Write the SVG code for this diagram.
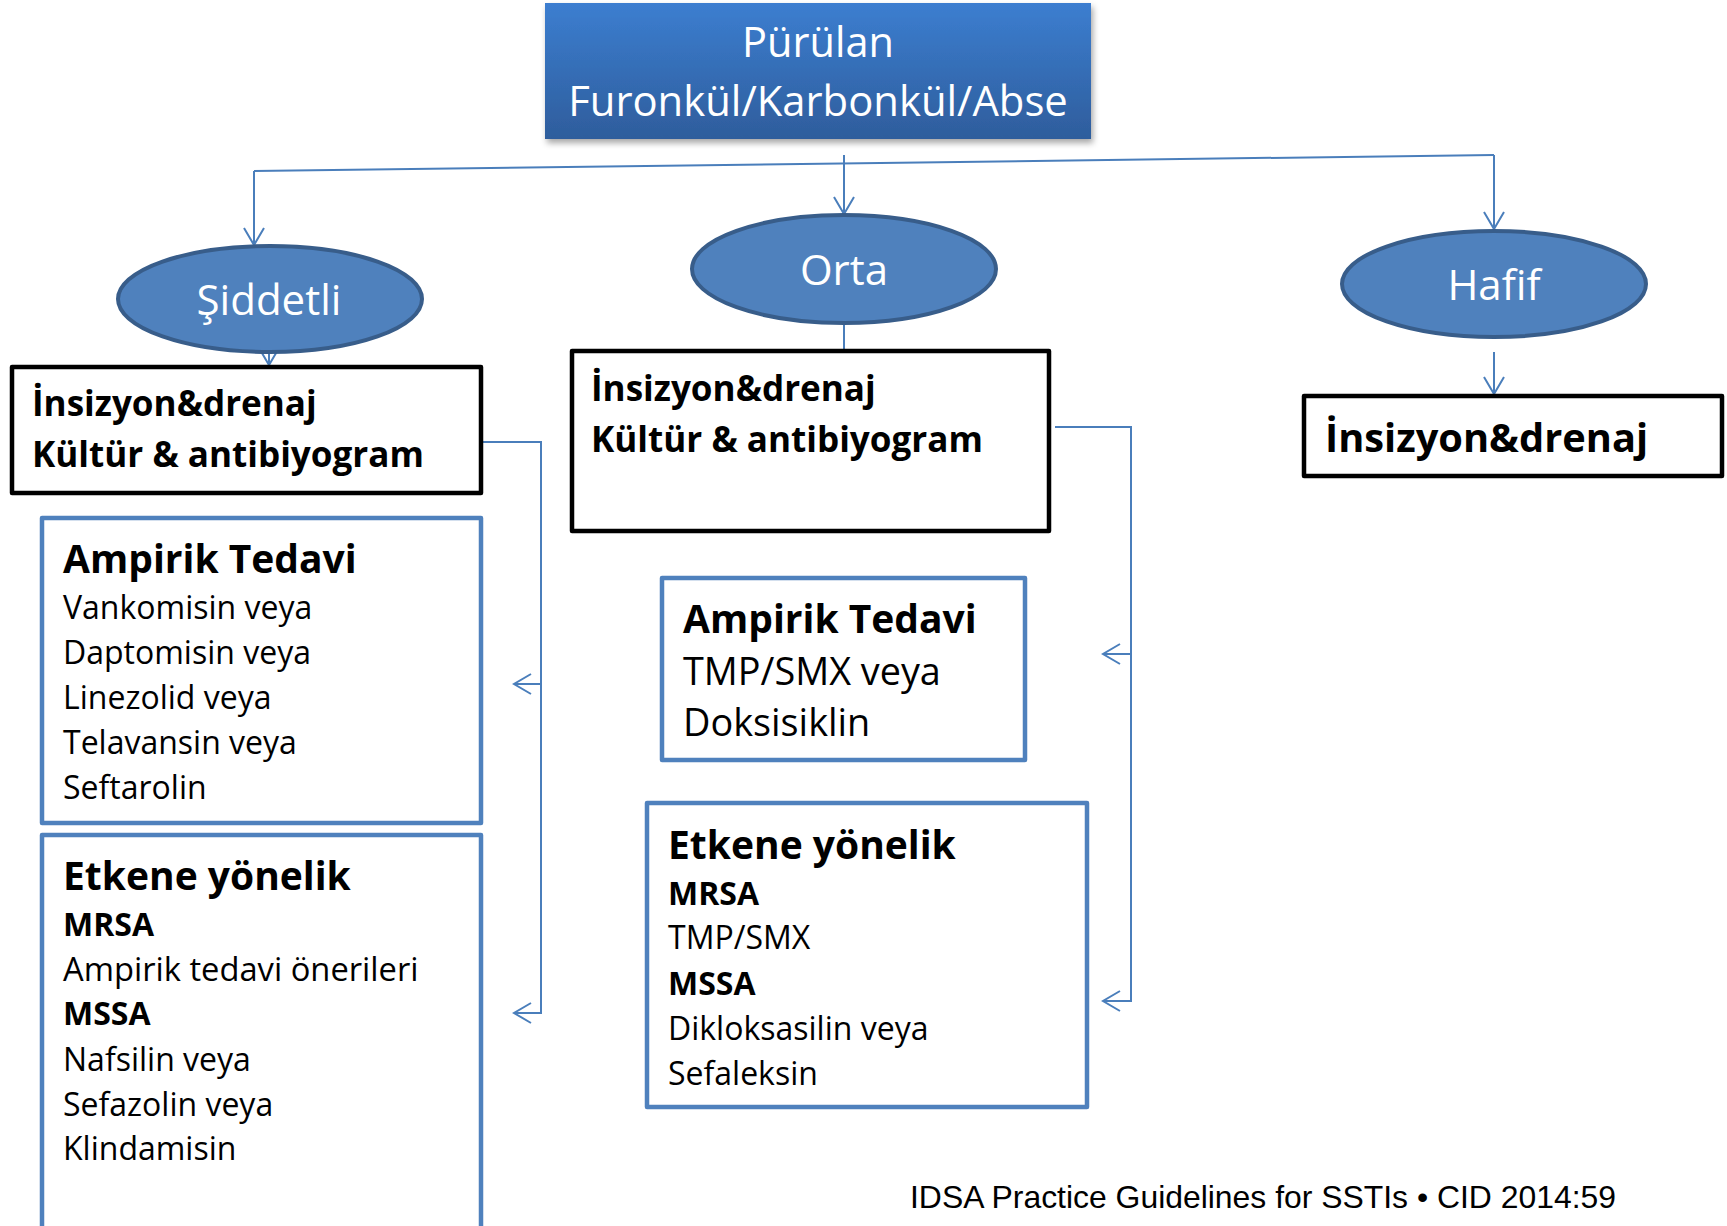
<svg xmlns="http://www.w3.org/2000/svg" width="1727" height="1226" viewBox="0 0 1727 1226">
<defs>
<linearGradient id="tg" x1="0" y1="0" x2="0" y2="1">
<stop offset="0" stop-color="#3c7ed0"/>
<stop offset="1" stop-color="#2e5d9c"/>
</linearGradient>
<filter id="sh" x="-5%" y="-10%" width="110%" height="125%">
<feDropShadow dx="2" dy="4" stdDeviation="3" flood-color="#000" flood-opacity="0.35"/>
</filter>
<marker id="arr" viewBox="-19 -12 21 24" refX="0" refY="0" markerWidth="21" markerHeight="24" markerUnits="userSpaceOnUse" orient="auto">
<path d="M-17,-10 L0,0 L-17,10" fill="none" stroke="#4a7ebb" stroke-width="2"/>
</marker>
</defs>
<style>
.conn{fill:none;stroke:#4a7ebb;stroke-width:2}
.ell{fill:#4f81bd;stroke:#385d8a;stroke-width:4}
.wt{font-family:"Open Sans","Noto Sans",sans-serif;fill:#fff;text-anchor:middle}
.blk{fill:#fff;stroke:#000;stroke-width:4.5;stroke-linejoin:round}
.blu{fill:#fff;stroke:#4f81bd;stroke-width:4.5;stroke-linejoin:round}
.t{font-family:"Open Sans","Noto Sans",sans-serif;fill:#000}
.bd{font-weight:bold}
</style>
<rect width="1727" height="1226" fill="#fff"/>

<g id="connectors">
<line class="conn" x1="254" y1="171" x2="1494" y2="155"/>
<line class="conn" x1="254" y1="171" x2="254" y2="245" marker-end="url(#arr)"/>
<line class="conn" x1="844" y1="155" x2="844" y2="214" marker-end="url(#arr)"/>
<line class="conn" x1="1494" y1="155" x2="1494" y2="229" marker-end="url(#arr)"/>
<line class="conn" x1="269" y1="345" x2="269" y2="365" marker-end="url(#arr)"/>
<line class="conn" x1="844" y1="323" x2="844" y2="351"/>
<line class="conn" x1="1494" y1="352" x2="1494" y2="394" marker-end="url(#arr)"/>
<path class="conn" d="M481,442 H541 V1013 H514" marker-end="url(#arr)"/>
<line class="conn" x1="541" y1="684" x2="514" y2="684" marker-end="url(#arr)"/>
<path class="conn" d="M1055,427 H1131 V1001 H1103" marker-end="url(#arr)"/>
<line class="conn" x1="1131" y1="654" x2="1103" y2="654" marker-end="url(#arr)"/>
</g>

<g id="title">
<rect x="545" y="3" width="546" height="136" fill="url(#tg)" filter="url(#sh)"/>
<text class="wt" x="818" y="57" font-size="41.5">Pürülan</text>
<text class="wt" x="818" y="116" font-size="41.8">Furonkül/Karbonkül/Abse</text>
</g>

<g id="siddetli">
<ellipse class="ell" cx="270" cy="299" rx="152" ry="53"/>
<text class="wt" x="269" y="315" font-size="42">Şiddetli</text>
</g>

<g id="orta">
<ellipse class="ell" cx="844" cy="269" rx="152" ry="54"/>
<text class="wt" x="844" y="285" font-size="42">Orta</text>
</g>

<g id="hafif">
<ellipse class="ell" cx="1494" cy="284" rx="152" ry="53"/>
<text class="wt" x="1494" y="300" font-size="42">Hafif</text>
</g>

<g id="siddetli-box">
<rect class="blk" x="12" y="367" width="469" height="126"/>
<text class="t bd" x="32" y="416" font-size="35.1">İnsizyon&amp;drenaj</text>
<text class="t bd" x="32" y="467" font-size="35.1">Kültür &amp; antibiyogram</text>
</g>

<g id="orta-box">
<rect class="blk" x="572" y="351" width="477" height="180"/>
<text class="t bd" x="591" y="401" font-size="35.1">İnsizyon&amp;drenaj</text>
<text class="t bd" x="591" y="452" font-size="35.1">Kültür &amp; antibiyogram</text>
</g>

<g id="hafif-box">
<rect class="blk" x="1304" y="396" width="418" height="80"/>
<text class="t bd" x="1325" y="452" font-size="39.8">İnsizyon&amp;drenaj</text>
</g>

<g id="siddetli-ampirik">
<rect class="blu" x="42" y="518" width="439" height="305"/>
<text class="t bd" x="63" y="573" font-size="39">Ampirik Tedavi</text>
<text class="t" x="63" y="619" font-size="32">Vankomisin veya</text>
<text class="t" x="63" y="664" font-size="32">Daptomisin veya</text>
<text class="t" x="63" y="709" font-size="32">Linezolid veya</text>
<text class="t" x="63" y="754" font-size="32">Telavansin veya</text>
<text class="t" x="63" y="799" font-size="32">Seftarolin</text>
</g>

<g id="siddetli-etkene">
<rect class="blu" x="42" y="835" width="439" height="410"/>
<text class="t bd" x="63" y="890" font-size="39">Etkene yönelik</text>
<text class="t bd" x="63" y="936" font-size="32">MRSA</text>
<text class="t" x="63" y="981" font-size="32.7">Ampirik tedavi önerileri</text>
<text class="t bd" x="63" y="1025" font-size="32">MSSA</text>
<text class="t" x="63" y="1071" font-size="32">Nafsilin veya</text>
<text class="t" x="63" y="1116" font-size="32">Sefazolin veya</text>
<text class="t" x="63" y="1160" font-size="32">Klindamisin</text>
</g>

<g id="orta-ampirik">
<rect class="blu" x="662" y="578" width="363" height="182"/>
<text class="t bd" x="683" y="633" font-size="39">Ampirik Tedavi</text>
<text class="t" x="683" y="685" font-size="37.8">TMP/SMX veya</text>
<text class="t" x="683" y="736" font-size="37.8">Doksisiklin</text>
</g>

<g id="orta-etkene">
<rect class="blu" x="647" y="803" width="440" height="304"/>
<text class="t bd" x="668" y="859" font-size="39">Etkene yönelik</text>
<text class="t bd" x="668" y="905" font-size="32">MRSA</text>
<text class="t" x="668" y="949" font-size="32">TMP/SMX</text>
<text class="t bd" x="668" y="995" font-size="32">MSSA</text>
<text class="t" x="668" y="1040" font-size="32">Dikloksasilin veya</text>
<text class="t" x="668" y="1085" font-size="32">Sefaleksin</text>
</g>

<g id="footer">
<text x="910" y="1208" font-family="'Liberation Sans',Arial,sans-serif" font-size="31.9" fill="#000">IDSA Practice Guidelines for SSTIs • CID 2014:59</text>
</g>
</svg>
